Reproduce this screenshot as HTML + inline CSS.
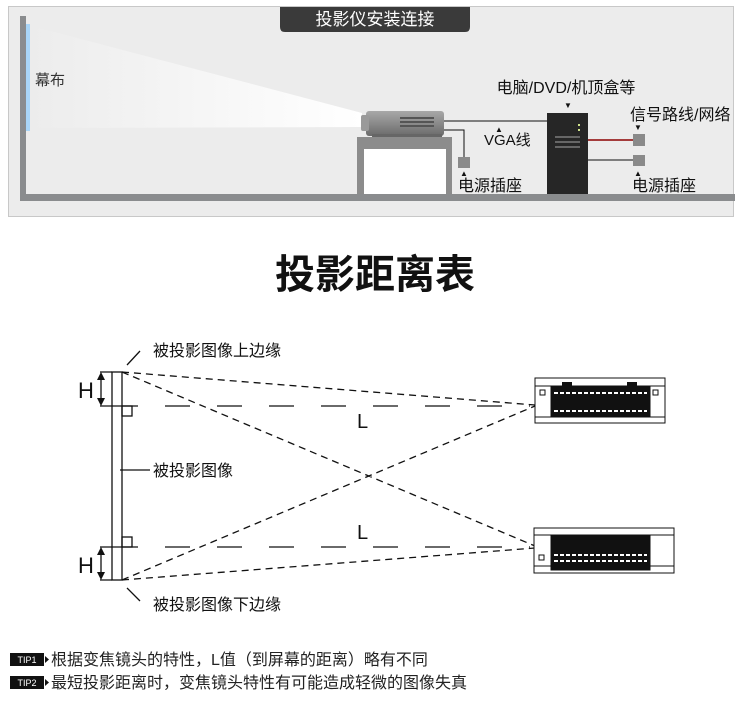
<!DOCTYPE html>
<html><head><meta charset="utf-8"><style>
html,body{margin:0;padding:0;background:#fff;}
svg{display:block;}
text{font-family:"Liberation Sans","Noto Sans CJK SC",sans-serif;}
</style></head><body>
<svg width="750" height="709" viewBox="0 0 750 709" xmlns="http://www.w3.org/2000/svg">
<defs>
<linearGradient id="beam" x1="0" x2="1" y1="0" y2="0">
<stop offset="0" stop-color="#ececec"/><stop offset="1" stop-color="#ffffff"/></linearGradient>
<linearGradient id="proj" x1="0" x2="0" y1="0" y2="1">
<stop offset="0" stop-color="#a8a8a8"/><stop offset="0.5" stop-color="#8a8a8a"/><stop offset="1" stop-color="#6a6a6a"/></linearGradient>
</defs>
<rect x="8.5" y="6.5" width="725" height="210" fill="#ececec" stroke="#c8c8c8"/>
<path d="M280 7 H470 V27 Q470 32 465 32 H285 Q280 32 280 27 Z" fill="#3a3a3a"/>
<text x="375" y="25" font-size="17" fill="#fff" text-anchor="middle">投影仪安装连接</text>
<rect x="20" y="16" width="6" height="184" fill="#8a8c8e"/>
<rect x="20" y="194" width="715" height="7" fill="#8a8c8e"/>
<polygon points="28,25 362,113 362,127 28,128" fill="url(#beam)"/>
<rect x="26" y="24" width="4" height="107" fill="#a9d5f7"/>
<text x="35" y="85" font-size="15" fill="#333">幕布</text>
<rect x="357" y="137" width="95" height="57" fill="#8c8c8c"/>
<rect x="364" y="149" width="82" height="45" fill="#fff"/>
<rect x="366" y="111" width="78" height="25" rx="3" fill="url(#proj)"/>
<rect x="361" y="115" width="8" height="16" rx="2" fill="#9a9a9a"/>
<rect x="400" y="117" width="34" height="2" fill="#555"/>
<rect x="400" y="121" width="34" height="2" fill="#555"/>
<rect x="400" y="125" width="34" height="2" fill="#555"/>
<rect x="372" y="134" width="70" height="3" fill="#666"/>
<path d="M444 121 H547" stroke="#111" fill="none"/>
<path d="M444 130 H464 V157" stroke="#111" fill="none"/>
<rect x="458" y="157" width="12" height="11" fill="#8a8a8a"/>
<text x="464" y="176" font-size="8" text-anchor="middle" fill="#111">▲</text>
<text x="458" y="191" font-size="16" fill="#111">电源插座</text>
<text x="499" y="132" font-size="8" text-anchor="middle" fill="#111">▲</text>
<text x="484" y="145" font-size="15" fill="#111">VGA线</text>
<rect x="547" y="113" width="41" height="81" fill="#262626"/>
<rect x="578" y="124" width="2" height="2" fill="#cfe28a"/>
<rect x="578" y="129" width="2" height="2" fill="#cfe28a"/>
<rect x="555" y="136" width="25" height="2" fill="#666"/>
<rect x="555" y="141" width="25" height="2" fill="#666"/>
<rect x="555" y="146" width="25" height="2" fill="#666"/>
<text x="566" y="93" font-size="16" text-anchor="middle" fill="#111">电脑/DVD/机顶盒等</text>
<text x="568" y="108" font-size="8" text-anchor="middle" fill="#111">▼</text>
<path d="M588 140 H633" stroke="#8b0000" stroke-width="1.5"/>
<path d="M588 160 H633" stroke="#111"/>
<rect x="633" y="134" width="12" height="12" fill="#8a8a8a"/>
<rect x="633" y="155" width="12" height="11" fill="#8a8a8a"/>
<text x="630" y="120" font-size="16" fill="#111">信号路线/网络</text>
<text x="638" y="130" font-size="8" text-anchor="middle" fill="#111">▼</text>
<text x="638" y="176" font-size="8" text-anchor="middle" fill="#111">▲</text>
<text x="632" y="191" font-size="16" fill="#111">电源插座</text>
<text x="375" y="288" font-size="40" font-weight="bold" text-anchor="middle" fill="#111">投影距离表</text>
<g stroke="#111" fill="none" stroke-width="1.3">
<rect x="112" y="372" width="10" height="208"/>
<path d="M100 372 H112 M100 406 H138 M100 547 H138 M100 580 H112"/>
<path d="M101 376 V402 M101 551 V576"/>
<rect x="122" y="406" width="10" height="10"/>
<rect x="122" y="537" width="10" height="10"/>
<path d="M165 406 H530 M165 547 H530" stroke-dasharray="25,27"/>
<path d="M122 372 L535 405 M122 372 L535 546 M122 580 L535 406 M122 580 L535 548" stroke-dasharray="7,5"/>
<path d="M127 365 L140 351 M120 470 H150 M127 588 L140 601"/>
</g>
<polygon points="101,372 97,380 105,380" fill="#111"/>
<polygon points="101,406 97,398 105,398" fill="#111"/>
<polygon points="101,547 97,555 105,555" fill="#111"/>
<polygon points="101,580 97,572 105,572" fill="#111"/>
<text x="78" y="398" font-size="22" fill="#111">H</text>
<text x="78" y="573" font-size="22" fill="#111">H</text>
<text x="357" y="428" font-size="20" fill="#111">L</text>
<text x="357" y="539" font-size="20" fill="#111">L</text>
<text x="153" y="356" font-size="16" fill="#111">被投影图像上边缘</text>
<text x="153" y="476" font-size="16" fill="#111">被投影图像</text>
<text x="153" y="610" font-size="16" fill="#111">被投影图像下边缘</text>
<g stroke="#111" fill="#fff" stroke-width="1">
<rect x="535" y="378" width="130" height="45"/>
<path d="M535 386 H665 M535 417 H665"/>
<rect x="551" y="387" width="99" height="29" fill="#111"/>
<rect x="540" y="390" width="5" height="5"/>
<rect x="653" y="390" width="5" height="5"/>
<rect x="534" y="528" width="140" height="45"/>
<path d="M534 535 H674 M534 566 H674"/>
<rect x="551" y="535" width="99" height="35" fill="#111"/>
<rect x="539" y="555" width="5" height="5"/>
</g>
<g stroke="#fff" stroke-width="2" stroke-dasharray="4,2">
<path d="M554 393 H647 M554 411 H647 M554 555 H647 M554 561 H647"/>
</g>
<rect x="562" y="382" width="10" height="8" fill="#111"/>
<rect x="627" y="382" width="10" height="8" fill="#111"/>
<rect x="10" y="653" width="34" height="13" fill="#111"/>
<text x="27" y="663" font-size="9" fill="#fff" text-anchor="middle">TIP1</text>
<polygon points="45,656 49,659.5 45,663" fill="#111"/>
<text x="51" y="665" font-size="16" fill="#222">根据变焦镜头的特性，L值（到屏幕的距离）略有不同</text>
<rect x="10" y="676" width="34" height="13" fill="#111"/>
<text x="27" y="686" font-size="9" fill="#fff" text-anchor="middle">TIP2</text>
<polygon points="45,679 49,682.5 45,686" fill="#111"/>
<text x="51" y="688" font-size="16" fill="#222">最短投影距离时，变焦镜头特性有可能造成轻微的图像失真</text>
</svg>
</body></html>
